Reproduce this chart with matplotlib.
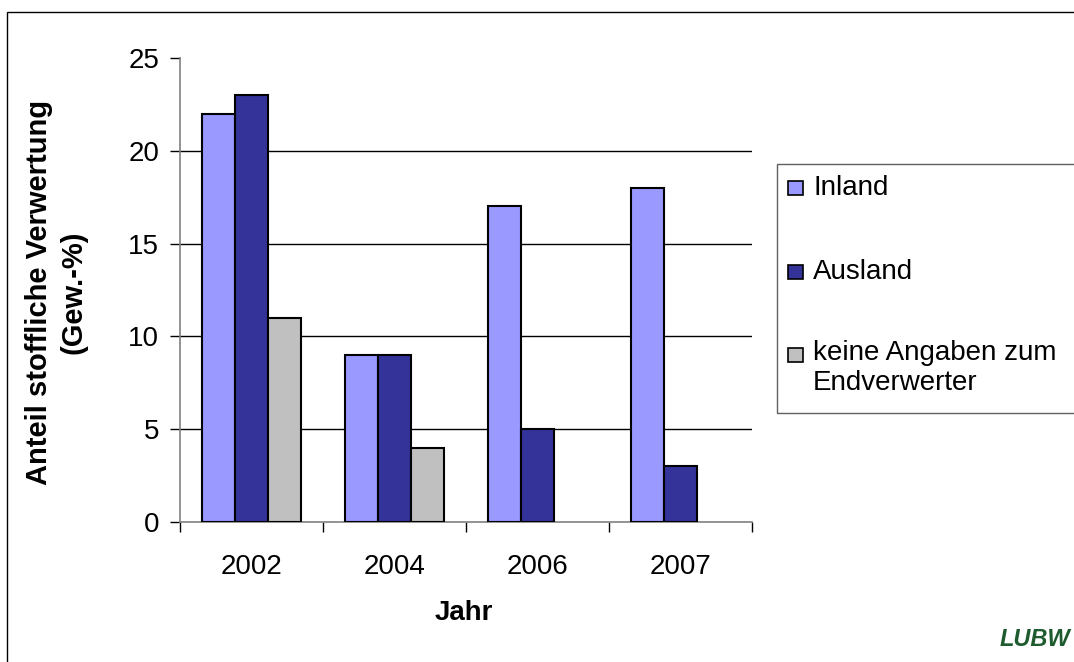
import matplotlib
matplotlib.use("Agg")
import matplotlib.pyplot as plt
from matplotlib.patches import Rectangle
import numpy as np

years = ["2002", "2004", "2006", "2007"]
inland = [22, 9, 17, 18]
ausland = [23, 9, 5, 3]
keine = [11, 4, 0, 0]
series_names = ["Inland", "Ausland", "keine Angaben zum\nEndverwerter"]
colors = ["#9999FF", "#333399", "#C0C0C0"]

plt.rcParams['font.family'] = ['Liberation Sans', 'DejaVu Sans']

W, H = 1074, 662
fig = plt.figure(figsize=(W / 100, H / 100), dpi=100)
fig.patch.set_facecolor("white")

def fx(px):
    return px / W

def fy(py):
    return 1 - py / H

ax = fig.add_axes([fx(180), fy(522), fx(752) - fx(180), fy(58) - fy(522)])

x = np.arange(len(years))
bw = 0.229
for i, (vals, col) in enumerate(zip([inland, ausland, keine], colors)):
    heights = np.array(vals, dtype=float)
    xs = x + (i - 1) * bw
    mask = heights > 0
    ax.bar(xs[mask], heights[mask], width=bw, color=col, edgecolor="black",
           linewidth=1.5, zorder=3)

ax.set_xlim(-0.5, len(years) - 0.5)
ax.set_ylim(0, 25)
ax.set_yticks([0, 5, 10, 15, 20, 25])
ax.set_yticklabels(["0", "5", "10", "15", "20", "25"])
for yv in [5, 10, 15, 20]:
    ax.axhline(yv, color="black", linewidth=1.0, zorder=1)

ax.set_xticks(np.arange(-0.5, len(years)), minor=False)
ax.set_xticklabels([""] * (len(years) + 1))
ax.set_xticks(x, minor=True)
ax.set_xticklabels(years, minor=True)
ax.tick_params(axis="x", which="major", length=7, width=1, color="black", direction="out")
ax.tick_params(axis="x", which="minor", length=0, pad=23, labelsize=20)
ax.tick_params(axis="y", length=7, width=1, color="black", direction="out", pad=8, labelsize=20)

for s in ["top", "right"]:
    ax.spines[s].set_visible(False)
ax.spines["left"].set_color("#808080")
ax.spines["bottom"].set_color("#808080")
ax.spines["left"].set_linewidth(1.2)
ax.spines["bottom"].set_linewidth(1.2)
ax.set_facecolor("white")

# axis titles
fig.text(fx(56), fy(292), "Anteil stoffliche Verwertung\n(Gew.-%)", rotation=90,
         ha="center", va="center", fontsize=21, fontweight="bold", linespacing=1.3)
fig.text(fx(464), fy(613), "Jahr", ha="center", va="center", fontsize=20, fontweight="bold")

# outer frame
fig.add_artist(Rectangle((fx(7), fy(700)), fx(1100) - fx(7), fy(12) - fy(700),
                         transform=fig.transFigure, fill=False, edgecolor="black",
                         linewidth=1.0))

# legend
fig.add_artist(Rectangle((fx(777), fy(413)), fx(1100) - fx(777), fy(164) - fy(413),
                         transform=fig.transFigure, fill=False, edgecolor="#606060",
                         linewidth=1.0))
entry_y = [188, 272, 355]
for yy, name, col in zip(entry_y, series_names, colors):
    fig.add_artist(Rectangle((fx(788), fy(yy + 7)), fx(803) - fx(788), fy(yy - 7) - fy(yy + 7),
                             transform=fig.transFigure, facecolor=col, edgecolor="black",
                             linewidth=1.2))
    if "\n" in name:
        fig.text(fx(813), fy(yy - 15.5), name, ha="left", va="top",
                 fontsize=20, linespacing=1.2)
    else:
        fig.text(fx(813), fy(yy), name, ha="left", va="center", fontsize=20)

# logo
fig.text(fx(1070), fy(640), "LUBW", ha="right", va="center", fontsize=17,
         fontweight="heavy", fontstyle="italic", color="#1E5B2E")

fig.savefig("out.png", dpi=100, facecolor="white")
